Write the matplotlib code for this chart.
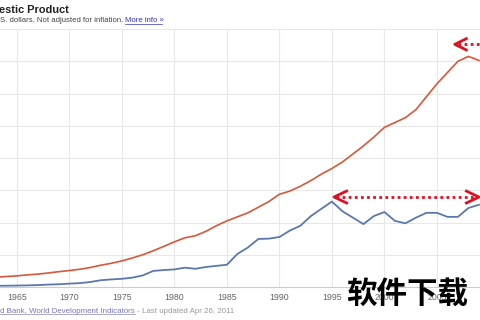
import matplotlib
matplotlib.use("Agg")
import matplotlib.pyplot as plt
import numpy as np

years = list(range(1960, 2010))
us_gdp = [0.52, 0.54, 0.57, 0.61, 0.65, 0.69, 0.75, 0.80, 0.87, 0.95,
          1.02, 1.10, 1.21, 1.35, 1.47, 1.62, 1.80, 2.00, 2.25, 2.52,
          2.80, 3.05, 3.18, 3.45, 3.80, 4.10, 4.35, 4.60, 4.95, 5.30,
          5.75, 5.95, 6.25, 6.60, 7.00, 7.35, 7.75, 8.25, 8.75, 9.30,
          9.90, 10.20, 10.50, 11.00, 11.80, 12.60, 13.30, 14.00, 14.30, 14.05]
jp_gdp = [0.04, 0.05, 0.06, 0.07, 0.08, 0.09, 0.10, 0.12, 0.15, 0.17,
          0.21, 0.24, 0.31, 0.42, 0.47, 0.51, 0.58, 0.72, 1.00, 1.05,
          1.09, 1.20, 1.13, 1.24, 1.31, 1.38, 2.05, 2.45, 2.98, 3.00,
          3.10, 3.50, 3.80, 4.40, 4.85, 5.30, 4.70, 4.30, 3.90, 4.40,
          4.65, 4.10, 3.95, 4.30, 4.60, 4.60, 4.35, 4.35, 4.90, 5.10]
tick_years = [1965, 1970, 1975, 1980, 1985, 1990, 1995, 2000, 2005]
grid_values = [2, 4, 6, 8, 10, 12, 14, 16]

fig = plt.figure(figsize=(4.8, 3.2), dpi=100)
ax = fig.add_axes([0.0, 1 - 287 / 320, 1.0, (287 - 29) / 320])
ax.set_xlim(1963.4, 2009.1)
ax.set_ylim(0, 16)

for v in grid_values:
    ax.axhline(v, color="#e8e8e8", lw=0.8, zorder=0)
for y in tick_years:
    ax.axvline(y, color="#e8e8e8", lw=0.8, zorder=0)

ax.plot(years, us_gdp, color="#d9573a", lw=1.2, zorder=3, clip_on=False)
ax.plot(years, jp_gdp, color="#5b78ae", lw=1.3, zorder=3)

for s in ["top", "right", "left"]:
    ax.spines[s].set_visible(False)
ax.spines["bottom"].set_color("#cccccc")
ax.spines["bottom"].set_linewidth(0.8)
ax.set_yticks([])
ax.set_xticks(tick_years)
ax.set_xticklabels([str(y) for y in tick_years], fontsize=6.3, color="#666666",
                   family="Liberation Sans")
ax.tick_params(axis="x", length=0, pad=4.5)

red = "#dd1122"
# double dotted arrow
ax.plot([1995.4, 2008.6], [5.58, 5.58], color=red, lw=2.0, ls=(0, (1, 1.2)), zorder=5)
ax.plot([1996.4, 1995.2, 1996.4], [5.95, 5.58, 5.21], color=red, lw=2.0, zorder=5)
ax.plot([2007.8, 2009.0, 2007.8], [5.95, 5.58, 5.21], color=red, lw=2.0, zorder=5)
# top arrow
ax.plot([2007.0, 2009.2], [15.05, 15.05], color=red, lw=2.0, ls=(0, (1, 1.2)), zorder=5,
        clip_on=False)
ax.plot([2007.8, 2006.7, 2007.8], [15.4, 15.05, 14.7], color=red, lw=2.0, zorder=5,
        clip_on=False)

fig.text(-0.002, 1 - 13 / 320, "estic Product", fontsize=7.9, fontweight="bold",
         color="#222222", family="Liberation Sans", va="baseline", ha="left")
t1 = fig.text(0.0, 1 - 22.5 / 320, "S. dollars. Not adjusted for inflation. ", fontsize=5.6,
              color="#444444", family="Liberation Sans", va="baseline", ha="left")
fig.canvas.draw()
bb = t1.get_window_extent()
fig.text(bb.x1 / 480, 1 - 22.5 / 320, "More info \u00bb", fontsize=5.6, color="#3333bb",
         family="Liberation Sans", va="baseline", ha="left")
fig.add_artist(plt.Line2D([bb.x1 / 480, bb.x1 / 480 + 37 / 480], [1 - 23.8 / 320] * 2,
                          color="#3333bb", lw=0.5))

t2 = fig.text(0.0, 1 - 313 / 320, "d Bank, World Development Indicators", fontsize=5.7,
              color="#7777bb", family="Liberation Sans", va="baseline", ha="left")
fig.canvas.draw()
bb2 = t2.get_window_extent()
fig.add_artist(plt.Line2D([0, bb2.x1 / 480], [1 - 314.3 / 320] * 2, color="#8888bb", lw=0.5))
fig.text(bb2.x1 / 480, 1 - 313 / 320, " - Last updated Apr 26, 2011", fontsize=5.7,
         color="#999999", family="Liberation Sans", va="baseline", ha="left")

fig.text(407 / 480, 1 - 294 / 320, "软件下载", fontsize=22, fontweight="bold", color="black",
         family=["Noto Sans CJK SC", "DejaVu Sans"], ha="center", va="center", zorder=10)

fig.savefig("out.png", dpi=100)
